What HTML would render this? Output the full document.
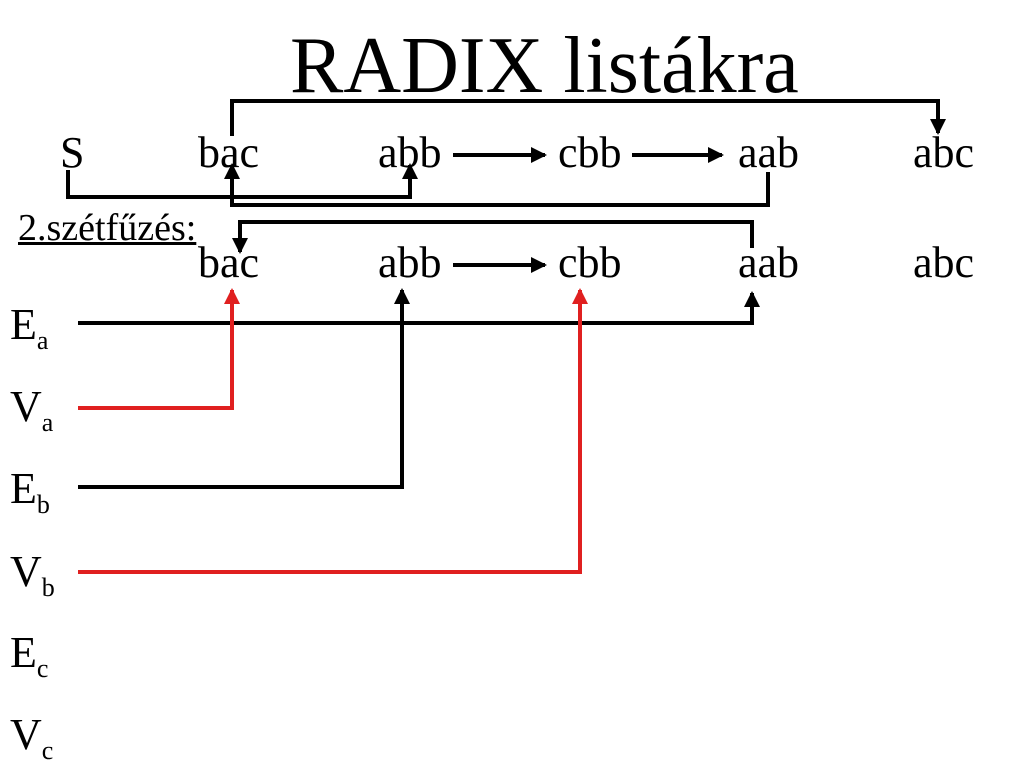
<!DOCTYPE html>
<html><head><meta charset="utf-8"><style>
body{margin:0;width:1024px;height:768px;background:#fff;overflow:hidden;position:relative}
.t{position:absolute;color:#000;white-space:nowrap;line-height:1;font-family:"Liberation Serif","DejaVu Serif",serif}
.t sub{font-family:"Liberation Serif",serif;font-size:26px;vertical-align:-10px}
svg{position:absolute;left:0;top:0}
</style></head><body>
<div class="t" style="left:290px;top:26px;font-size:80px">RADIX listákra</div>
<div class="t" style="left:60px;top:131px;font-size:44px">S</div>
<div class="t" style="left:198px;top:131px;font-size:44px">bac</div>
<div class="t" style="left:378px;top:131px;font-size:44px">abb</div>
<div class="t" style="left:558px;top:131px;font-size:44px">cbb</div>
<div class="t" style="left:738px;top:131px;font-size:44px">aab</div>
<div class="t" style="left:913px;top:131px;font-size:44px">abc</div>
<div class="t" style="left:18px;top:209px;font-size:38px;text-decoration:underline">2.szétfűzés:</div>
<div class="t" style="left:198px;top:241px;font-size:44px">bac</div>
<div class="t" style="left:378px;top:241px;font-size:44px">abb</div>
<div class="t" style="left:558px;top:241px;font-size:44px">cbb</div>
<div class="t" style="left:738px;top:241px;font-size:44px">aab</div>
<div class="t" style="left:913px;top:241px;font-size:44px">abc</div>
<div class="t" style="left:10px;top:303px;font-size:44px">E<sub>a</sub></div>
<div class="t" style="left:10px;top:385px;font-size:44px">V<sub>a</sub></div>
<div class="t" style="left:10px;top:467px;font-size:44px">E<sub>b</sub></div>
<div class="t" style="left:10px;top:550px;font-size:44px">V<sub>b</sub></div>
<div class="t" style="left:10px;top:631px;font-size:44px">E<sub>c</sub></div>
<div class="t" style="left:10px;top:713px;font-size:44px">V<sub>c</sub></div>
<svg width="1024" height="768">
<defs>
<marker id="a" markerWidth="4" markerHeight="4" refX="3.5" refY="2" orient="auto" markerUnits="strokeWidth"><path d="M0,0L4,2L0,4z" fill="#000"/></marker>
<marker id="r" markerWidth="4" markerHeight="4" refX="3.5" refY="2" orient="auto" markerUnits="strokeWidth"><path d="M0,0L4,2L0,4z" fill="#e02020"/></marker>
</defs>
<g fill="none" stroke="#000" stroke-width="4">
<path d="M232 136V101H938V133" marker-end="url(#a)"/>
<path d="M68 170V197H410V165" marker-end="url(#a)"/>
<path d="M768 172V205H232V165" marker-end="url(#a)"/>
<path d="M752 248V222H240V252" marker-end="url(#a)"/>
<path d="M453 155H545" marker-end="url(#a)"/>
<path d="M632 155H722" marker-end="url(#a)"/>
<path d="M453 265H545" marker-end="url(#a)"/>
<path d="M78 323H752V293" marker-end="url(#a)"/>
<path d="M78 487H402V290" marker-end="url(#a)"/>
</g>
<g fill="none" stroke="#e02020" stroke-width="4">
<path d="M78 408H232V290" marker-end="url(#r)"/>
<path d="M78 572H580V290" marker-end="url(#r)"/>
</g>
</svg>
</body></html>
